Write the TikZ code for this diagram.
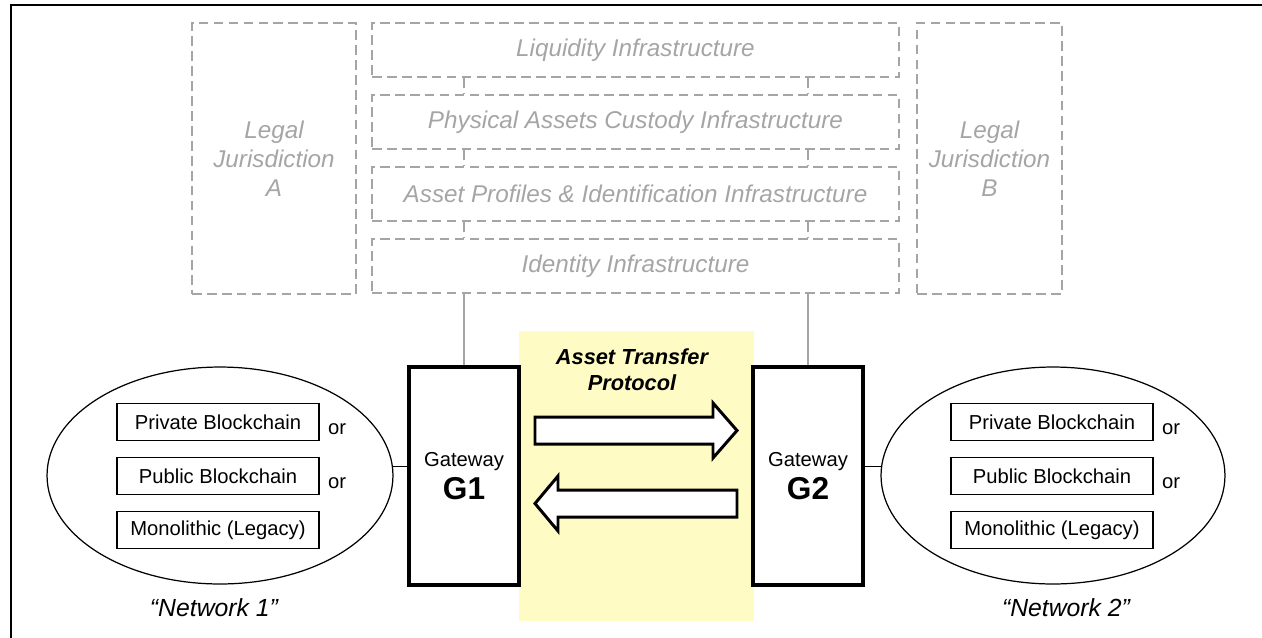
\documentclass[tikz,border=0pt]{standalone}
\usepackage{fontspec}
\setmainfont{Liberation Sans}
\usetikzlibrary{shapes.geometric,positioning}

\definecolor{infragray}{RGB}{165,165,165}
\definecolor{protoyellow}{RGB}{255,251,196}

\begin{document}
\begin{tikzpicture}[x=0.02cm,y=-0.02cm]
	\tikzset{dashline/.style = {draw=infragray, line width=1.1pt, dash pattern=on 5.5pt off 3pt}}
	\tikzset{layer/.style = {dashline, text=infragray, font=\fontsize{13.8}{16.5}\selectfont\itshape, minimum width=10.54cm, minimum height=1.08cm, inner sep=0pt}}
	\tikzset{legal/.style = {layer, align=center, minimum width=#1, minimum height=5.42cm}}
	\tikzset{gateway/.style = {draw, line width=2pt, fill=white, minimum width=2.2cm, minimum height=4.36cm, align=center, font=\fontsize{11.5}{18.8}\selectfont}}
	\tikzset{chain/.style = {draw, line width=0.8pt, minimum width=4.04cm, minimum height=0.74cm, inner sep=0pt, font=\fontsize{11.5}{14}\selectfont}}
	\tikzset{network/.style = {ellipse, draw, line width=0.7pt, minimum height=4.34cm, inner sep=0pt}}
	\tikzset{transfer/.style = {draw, line width=1.7pt, fill=white, line join=miter}}
	\tikzset{link/.style = {draw=infragray, line width=0.8pt}}
	\tikzset{netlabel/.style = {font=\fontsize{14.1}{16}\selectfont\itshape}}
	\tikzset{ortext/.style = {font=\fontsize{11.5}{14}\selectfont, inner sep=0pt}}

	\useasboundingbox (0,0) rectangle (1262,637);

	% outer frame
	\draw[line width=1.1pt] (11,645) -- (11,5) -- (1270,5);

	% protocol band
	\fill[protoyellow] (519,331) rectangle (754,621);
	\node[font=\fontsize{12.4}{14.8}\selectfont\bfseries\itshape, align=center] (atp) at (632,370) {Asset Transfer\\Protocol};

	% gateways
	\node[gateway] (g1) at (464,476) {Gateway\\{\fontsize{18}{18.8}\selectfont\bfseries G1}};
	\node[gateway] (g2) at (808,476) {Gateway\\{\fontsize{18}{18.8}\selectfont\bfseries G2}};

	% transfer arrows
	\draw[transfer] (535,417) -- (713,417) -- (713,403) -- (737,430.5) -- (713,458) -- (713,444) -- (535,444) -- cycle;
	\draw[transfer] (737,490) -- (558,490) -- (558,476) -- (535,503.5) -- (558,531) -- (558,517) -- (737,517) -- cycle;

	% infrastructure layers
	\foreach \i/\txt in {0/Liquidity Infrastructure, 1/Physical Assets Custody Infrastructure, 2/Asset Profiles \& Identification Infrastructure, 3/Identity Infrastructure}
		\node[layer] (layer\i) at (635.5,50+72*\i) {\txt};

	% legal jurisdictions
	\node[legal=3.28cm] (legalA) at (274,158.5) {Legal\\Jurisdiction\\A};
	\node[legal=2.9cm] (legalB) at (989.5,158.5) {Legal\\Jurisdiction\\B};

	% links between layers and down to the gateways
	\foreach \i/\j in {0/1,1/2,2/3} {
		\draw[dashline] (layer\i.south -| g1) -- (layer\j.north -| g1);
		\draw[dashline] (layer\i.south -| g2) -- (layer\j.north -| g2);
	}
	\draw[link] (layer3.south -| g1) -- (g1.north);
	\draw[link] (layer3.south -| g2) -- (g2.north);

	% networks
	\node[network, minimum width=6.92cm] (net1) at (220,475.5) {};
	\node[network, minimum width=6.88cm] (net2) at (1053,475.5) {};
	\foreach \n/\x in {1/218, 2/1052} {
		\node[chain] (priv\n) at (\x,422) {Private Blockchain};
		\node[chain] (pub\n) at (\x,476) {Public Blockchain};
		\node[chain] (mono\n) at (\x,530) {Monolithic (Legacy)};
		\node[ortext, right=0.16cm of priv\n, yshift=-0.15cm] (orpriv\n) {or};
		\node[ortext, right=0.16cm of pub\n, yshift=-0.15cm] (orpub\n) {or};
	}

	% networks to gateways
	\draw[line width=0.7pt] (net1.3) -- (net1.3 -| g1.west);
	\draw[line width=0.7pt] (net2.177) -- (net2.177 -| g2.east);

	% network labels
	\node[netlabel] (lab1) at (214,608) {“Network 1”};
	\node[netlabel] (lab2) at (1066,608) {“Network 2”};
\end{tikzpicture}
\end{document}
